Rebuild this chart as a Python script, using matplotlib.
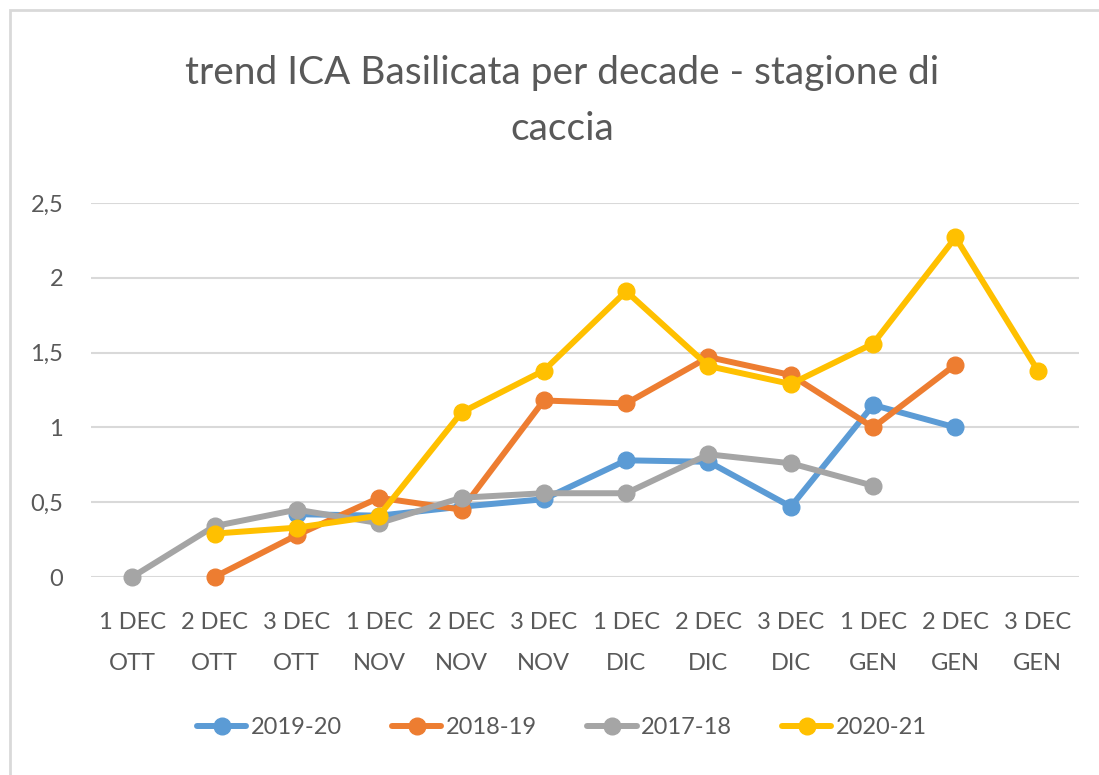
import numpy as np
import matplotlib
matplotlib.use("Agg")
import matplotlib.pyplot as plt
from matplotlib.patches import Rectangle

categories = ["1 DEC\nOTT", "2 DEC\nOTT", "3 DEC\nOTT", "1 DEC\nNOV", "2 DEC\nNOV", "3 DEC\nNOV",
              "1 DEC\nDIC", "2 DEC\nDIC", "3 DEC\nDIC", "1 DEC\nGEN", "2 DEC\nGEN", "3 DEC\nGEN"]
nan = np.nan
s2019_20 = [nan, nan, 0.42, 0.41, 0.47, 0.52, 0.78, 0.77, 0.47, 1.15, 1.00, nan]
s2018_19 = [nan, 0.00, 0.28, 0.53, 0.45, 1.18, 1.16, 1.47, 1.35, 1.00, 1.42, nan]
s2017_18 = [0.00, 0.34, 0.45, 0.36, 0.53, 0.56, 0.56, 0.82, 0.76, 0.61, nan, nan]
s2020_21 = [nan, 0.29, 0.33, 0.41, 1.10, 1.38, 1.91, 1.41, 1.29, 1.56, 2.27, 1.38]
series_names = ["2019-20", "2018-19", "2017-18", "2020-21"]
series_values = [s2019_20, s2018_19, s2017_18, s2020_21]
colors = ["#5B9BD5", "#ED7D31", "#A5A5A5", "#FFC000"]
yticks = [0, 0.5, 1, 1.5, 2, 2.5]
ytick_labels = ["0", "0,5", "1", "1,5", "2", "2,5"]
title = "trend ICA Basilicata per decade - stagione di\ncaccia"

plt.rcParams['font.family'] = ['Lato', 'DejaVu Sans']
txt = "#595959"

W, H = 1099, 775
fig = plt.figure(figsize=(W / 100, H / 100), dpi=100)
fig.patch.set_facecolor("white")
fig.patches.append(Rectangle((10 / W, -0.1), 1.2, 1 - 10 / H + 0.1, transform=fig.transFigure,
                             fill=False, edgecolor="#D9D9D9", linewidth=2))

ax = fig.add_axes([91 / W, 1 - 577 / H, (1079 - 91) / W, (577 - 203) / H])
x = np.arange(len(categories))
for name, vals, c in zip(series_names, series_values, colors):
    ax.plot(x, vals, color=c, linewidth=4.3, marker="o", markersize=12,
            label=name, clip_on=False, solid_capstyle="round", zorder=3)

ax.set_xlim(-0.5, len(categories) - 0.5)
ax.set_ylim(0, 2.5)
ax.set_yticks(yticks)
ax.set_yticklabels(ytick_labels)
ax.set_xticks(x)
ax.set_xticklabels(categories, linespacing=2.2)
ax.tick_params(axis="both", length=0, labelsize=17, colors=txt)
ax.tick_params(axis="x", pad=25)
ax.tick_params(axis="y", pad=20)
for s in ax.spines.values():
    s.set_visible(False)
ax.grid(axis="y", color="#D9D9D9", linewidth=1.5)
ax.set_axisbelow(True)

fig.text(562 / W, 1 - 101 / H, title, ha="center", va="center", fontsize=28,
         color=txt, linespacing=1.67)

ax.legend(loc="center", bbox_to_anchor=(562 / W, 1 - 728 / H), bbox_transform=fig.transFigure,
          ncol=4, frameon=False, fontsize=17, labelcolor=txt, handlelength=2.1,
          handletextpad=0.2, columnspacing=2.1, markerscale=1.0)

fig.savefig("out.png", dpi=100, facecolor="white")
